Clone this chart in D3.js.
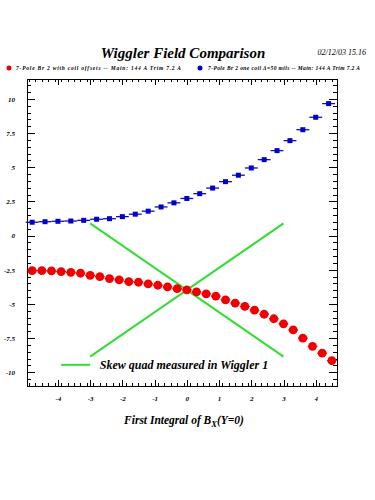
<!DOCTYPE html>
<html>
<head>
<meta charset="utf-8">
<script src="https://cdn.jsdelivr.net/npm/d3@7"></script>
<style>
  body { margin: 0; background: #fff; }
  svg { display: block; }
  .ax path { display: none; }
  .ax line { stroke: #000; }
  .ax text { font-family: "Liberation Serif", serif; font-style: italic; font-weight: bold; font-size: 7px; fill: #000; }
</style>
</head>
<body>
<div id="chart"></div>
<script>
"use strict";

var titleText = "Wiggler Field Comparison";
var dateText = "02/12/03   15.16";
var xTitle = "First Integral of B";
var legendRed = "7-Pole Br 2 with coil offsets -- Main: 144 A  Trim 7.2 A";
var legendBlue = "7-Pole Br 2 one coil \u0394=50 mils -- Main: 144 A  Trim 7.2 A";
var legendGreen = "Skew quad measured in Wiggler 1";

var redX = [-4.8, -4.5, -4.2, -3.9, -3.6, -3.3, -3.0, -2.7, -2.4, -2.1, -1.8, -1.5, -1.2, -0.9, -0.6, -0.3,
            0.0, 0.3, 0.6, 0.9, 1.2, 1.5, 1.8, 2.1, 2.4, 2.7, 3.0, 3.3, 3.6, 3.9, 4.2, 4.5];
var redY = [-2.56, -2.56, -2.58, -2.63, -2.68, -2.75, -2.90, -3.00, -3.14, -3.24, -3.36, -3.41, -3.53, -3.63, -3.75, -3.88,
            -3.97, -4.12, -4.26, -4.42, -4.70, -4.93, -5.18, -5.45, -5.75, -6.08, -6.45, -6.90, -7.50, -8.10, -8.60, -9.14];
var redErr = 0.15;

var blueX = [-4.8, -4.4, -4.0, -3.6, -3.2, -2.8, -2.4, -2.0, -1.6, -1.2, -0.8, -0.4,
             0.0, 0.4, 0.8, 1.2, 1.6, 2.0, 2.4, 2.8, 3.2, 3.6, 4.0, 4.4];
var blueY = [0.98, 1.02, 1.05, 1.07, 1.12, 1.20, 1.24, 1.39, 1.57, 1.79, 2.10, 2.40,
             2.72, 3.07, 3.48, 3.95, 4.42, 4.95, 5.56, 6.22, 6.95, 7.75, 8.66, 9.66];
var blueErr = 0.2;

var greenX = [-3, 3];
var greenA = [0.9, -8.85];
var greenB = [-8.85, 0.9];

var xTicks = [-4, -3, -2, -1, 0, 1, 2, 3, 4];
var xTickLabels = ["-4", "-3", "-2", "-1", "0", "1", "2", "3", "4"];
var yTicks = [-10, -7.5, -5, -2.5, 0, 2.5, 5, 7.5, 10];
var yTickLabels = ["-10", "-7.5", "-5", "-2.5", "0", "2.5", "5", "7.5", "10"];

var width = 375, height = 500;
var margin = { top: 79, right: 38, bottom: 114, left: 27 };
var w = width - margin.left - margin.right,
    h = height - margin.top - margin.bottom;

var svg = d3.select("#chart").append("svg")
  .attr("width", width).attr("height", height);

var g = svg.append("g")
  .attr("transform", "translate(" + margin.left + "," + margin.top + ")");

var x = d3.scaleLinear().domain([-4.96, 4.66]).range([0, w]);
var y = d3.scaleLinear().domain([-11.0, 11.46]).range([h, 0]);

var xMinor = d3.range(-49, 47, 2).map(function (d) { return d / 10; });
var yMinor = d3.range(-22, 23, 1).map(function (d) { return d / 2; });

// frame
g.append("rect").attr("x", 0).attr("y", 0).attr("width", w).attr("height", h)
  .attr("fill", "none").attr("stroke", "#000").attr("stroke-width", 1)
  .style("shape-rendering", "crispEdges");

function ticks(axis, tr, vals, size, labels) {
  var a = axis.tickValues(vals).tickSizeInner(size).tickSizeOuter(0);
  if (labels) a.tickFormat(function (d, i) { return labels[i]; }).tickPadding(-size + 4);
  else a.tickFormat("");
  g.append("g").attr("class", "ax").attr("transform", tr).call(a)
    .selectAll("line").style("shape-rendering", "crispEdges");
}

ticks(d3.axisBottom(x), "translate(0," + h + ")", xMinor, -3);
ticks(d3.axisBottom(x), "translate(0," + h + ")", xTicks, -6, xTickLabels);
ticks(d3.axisTop(x), "translate(0,0)", xMinor, -3);
ticks(d3.axisTop(x), "translate(0,0)", xTicks, -6);
ticks(d3.axisLeft(y), "translate(0,0)", yMinor, -4);
ticks(d3.axisLeft(y), "translate(0,0)", yTicks, -8, yTickLabels);
ticks(d3.axisRight(y), "translate(" + w + ",0)", yMinor, -4);
ticks(d3.axisRight(y), "translate(" + w + ",0)", yTicks, -8);

// green skew quad lines
[greenA, greenB].forEach(function (ys) {
  g.append("line")
    .attr("x1", x(greenX[0])).attr("y1", y(ys[0]))
    .attr("x2", x(greenX[1])).attr("y2", y(ys[1]))
    .attr("stroke", "#33dd33").attr("stroke-width", 2);
});

// red series
var red = redX.map(function (d, i) { return { x: d, y: redY[i] }; });
g.selectAll(".redbar").data(red).enter().append("line")
  .attr("x1", function (d) { return x(d.x - redErr); })
  .attr("x2", function (d) { return x(d.x + redErr); })
  .attr("y1", function (d) { return y(d.y); })
  .attr("y2", function (d) { return y(d.y); })
  .attr("stroke", "#dd0000").attr("stroke-width", 1.2);
g.selectAll(".reddot").data(red).enter().append("circle")
  .attr("cx", function (d) { return x(d.x); })
  .attr("cy", function (d) { return y(d.y); })
  .attr("r", 4.4)
  .attr("fill", "#f00000");

// blue series
var blue = blueX.map(function (d, i) { return { x: d, y: blueY[i] }; });
g.selectAll(".bluebar").data(blue).enter().append("line")
  .attr("x1", function (d) { return x(d.x - blueErr); })
  .attr("x2", function (d) { return x(d.x + blueErr); })
  .attr("y1", function (d) { return y(d.y); })
  .attr("y2", function (d) { return y(d.y); })
  .attr("stroke", "#1010b0").attr("stroke-width", 1.3);
g.selectAll(".bluedot").data(blue).enter().append("rect")
  .attr("x", function (d) { return x(d.x) - 2.5; })
  .attr("y", function (d) { return y(d.y) - 2.5; })
  .attr("width", 5).attr("height", 5)
  .attr("fill", "#0000cc");

// inner legend
g.append("line")
  .attr("x1", x(-3.9)).attr("x2", x(-3.0))
  .attr("y1", y(-9.45)).attr("y2", y(-9.45))
  .attr("stroke", "#33dd33").attr("stroke-width", 2);
g.append("text")
  .attr("x", x(-2.7)).attr("y", y(-9.45) + 4)
  .attr("font-family", "Liberation Serif, serif").attr("font-style", "italic").attr("font-weight", "bold")
  .attr("font-size", 12).text(legendGreen);

// titles
svg.append("text").attr("x", 183).attr("y", 58).attr("text-anchor", "middle")
  .attr("font-family", "Liberation Serif, serif").attr("font-style", "italic").attr("font-weight", "bold")
  .attr("font-size", 15).text(titleText);
svg.append("text").attr("x", 366).attr("y", 55).attr("text-anchor", "end")
  .attr("font-family", "Liberation Serif, serif").attr("font-style", "italic")
  .attr("font-size", 8).text(dateText);

// top legend
svg.append("circle").attr("cx", 9).attr("cy", 68).attr("r", 2.5).attr("fill", "#ee0000");
svg.append("text").attr("x", 16).attr("y", 70).attr("font-family", "Liberation Serif, serif")
  .attr("font-style", "italic").attr("font-weight", "bold").attr("font-size", 5.5)
  .attr("textLength", 165).attr("lengthAdjust", "spacing").text(legendRed);
svg.append("circle").attr("cx", 200).attr("cy", 68).attr("r", 2.5).attr("fill", "#0000cc");
svg.append("text").attr("x", 208).attr("y", 70).attr("font-family", "Liberation Serif, serif")
  .attr("font-style", "italic").attr("font-weight", "bold").attr("font-size", 5.5)
  .attr("textLength", 152).attr("lengthAdjust", "spacing").text(legendBlue);

// x title
var xt = svg.append("text").attr("x", 184).attr("y", 424).attr("text-anchor", "middle")
  .attr("font-family", "Liberation Serif, serif").attr("font-style", "italic").attr("font-weight", "bold")
  .attr("font-size", 11.5);
xt.append("tspan").text(xTitle);
xt.append("tspan").attr("font-size", 8.5).attr("dy", 3).text("X");
xt.append("tspan").attr("dy", -3).text("(Y=0)");
</script>
</body>
</html>
